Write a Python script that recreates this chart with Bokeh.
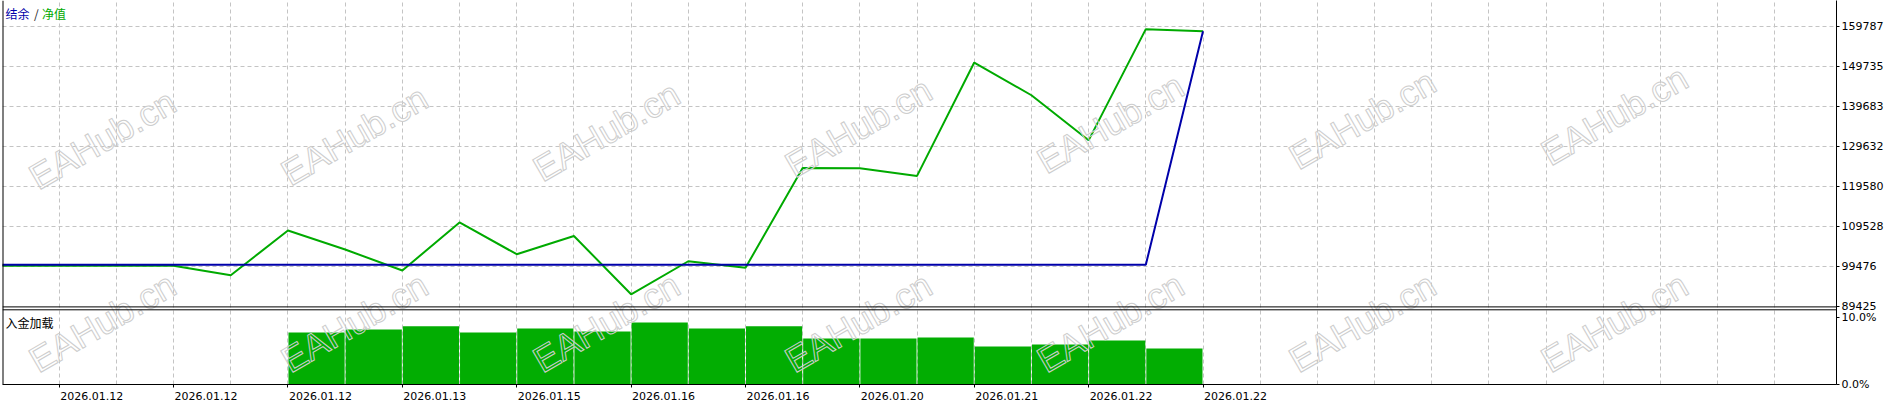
import math
from bokeh.plotting import figure
from bokeh.models import Range1d, FixedTicker, LinearAxis, Span, Label, Grid
from bokeh.embed import file_html
from bokeh.resources import INLINE
from bokeh.core.properties import value

# ---------------- data ----------------
trade_index = [0, 1, 2, 3, 4, 5, 6, 7, 8, 9, 10, 11, 12, 13, 14, 15, 16, 17, 18, 19, 20, 21]
equity = [99740, 99740, 99740, 99740, 97370, 108610, 103840, 98550, 110630, 102650, 107230,
          92590, 100890, 99230, 124280, 124250, 122320, 150790, 142570, 131250, 159170, 158660]
balance = [100000, 100000, 100000, 100000, 100000, 100000, 100000, 100000, 100000, 100000, 100000,
           100000, 100000, 100000, 100000, 100000, 100000, 100000, 100000, 100000, 100000, 158660]

load_index = [5, 6, 7, 8, 9, 10, 11, 12, 13, 14, 15, 16, 17, 18, 19, 20]
load_pct = [7.71, 8.16, 8.65, 7.71, 8.31, 7.86, 9.21, 8.31, 8.65, 6.81, 6.81, 6.96, 5.61, 5.91, 6.51, 5.31]

y_ticks = [89425, 99476, 109528, 119580, 129632, 139683, 149735, 159787]
y_tick_labels = ["89425", "99476", "109528", "119580", "129632", "139683", "149735", "159787"]

x_tick_pos = [1, 3, 5, 7, 9, 11, 13, 15, 17, 19, 21]
x_tick_labels = ["2026.01.12", "2026.01.12", "2026.01.12", "2026.01.13", "2026.01.15", "2026.01.16",
                 "2026.01.16", "2026.01.20", "2026.01.21", "2026.01.22", "2026.01.22"]

pct_ticks = [0, 10]
pct_labels = ["0.0%", "10.0%"]

title_parts = ["结余", "/", "净值"]
panel_title = "入金加载"
watermark = "EAHub.cn"

# ---------------- style / geometry ----------------
GREEN = "#00AA00"
BAR_GREEN = "#02AD02"
BLUE = "#0000AA"
GRID = "#C4C4C4"
FONT = "DejaVu Sans"
CJK = "Noto Sans CJK SC"

W, H = 1890, 406
FRAME_L, FRAME_R, FRAME_B = 2, 1836, 384
PX_PER_IDX = 57.19
X0 = 1 + (FRAME_L - 58.7) / PX_PER_IDX
X1 = 1 + (FRAME_R - 58.7) / PX_PER_IDX

PX_PER_VAL = 251.1
MAIN_END = 89425 + 306.4 * PX_PER_VAL
MAIN_START = MAIN_END - FRAME_B * PX_PER_VAL

PCT_PX = 6.68
PCT_ZERO_Y = 383.5
PCT_START = -(FRAME_B - PCT_ZERO_Y) / PCT_PX
PCT_END = PCT_ZERO_Y / PCT_PX


def y_main(py):
    return MAIN_END - py * PX_PER_VAL


def y_pct(py):
    return (PCT_ZERO_Y - py) / PCT_PX


def x_idx(px):
    return 1 + (px - 58.7) / PX_PER_IDX


p = figure(width=W, height=H, x_range=Range1d(X0, X1), y_range=Range1d(MAIN_START, MAIN_END),
           output_backend="svg", toolbar_location=None,
           x_axis_location=None, y_axis_location=None,
           min_border_left=FRAME_L, min_border_right=W - FRAME_R,
           min_border_top=0, min_border_bottom=H - FRAME_B)
p.extra_y_ranges = {"pct": Range1d(PCT_START, PCT_END)}
p.outline_line_color = None
p.background_fill_color = "white"
p.border_fill_color = "white"
p.center = []

# grids
p.add_layout(Grid(dimension=0, ticker=FixedTicker(ticks=list(range(1, 32))),
                  grid_line_color=GRID, grid_line_dash="4 3", grid_line_width=1))
p.add_layout(Grid(dimension=1, ticker=FixedTicker(ticks=y_ticks[1:]),
                  grid_line_color=GRID, grid_line_dash="4 3", grid_line_width=1))

# right axis: main values plus load percentage labels (converted to main units)
pct_as_main = [round(y_main(PCT_ZERO_Y - t * PCT_PX), 3) for t in pct_ticks]
overrides = {t: l for t, l in zip(y_ticks, y_tick_labels)}
overrides.update({t: l for t, l in zip(pct_as_main, pct_labels)})
ax_r = LinearAxis(ticker=FixedTicker(ticks=y_ticks + pct_as_main),
                  major_label_overrides=overrides,
                  axis_line_color="black", axis_line_width=1,
                  major_tick_out=3, major_tick_in=0, major_tick_line_color="black",
                  minor_tick_line_color=None,
                  major_label_standoff=2, major_label_text_font=FONT,
                  major_label_text_font_size="11px", major_label_text_color="black")
p.add_layout(ax_r, "right")

# bottom axis: labels start right of their tick marks
delta = 32.5 / PX_PER_IDX
lab_pos = [round(t + delta, 4) for t in x_tick_pos]
ax_b = LinearAxis(ticker=FixedTicker(ticks=lab_pos, minor_ticks=x_tick_pos),
                  major_label_overrides={t: l for t, l in zip(lab_pos, x_tick_labels)},
                  axis_line_color="black", axis_line_width=1,
                  major_tick_out=0, major_tick_in=0, major_tick_line_color=None,
                  minor_tick_out=3, minor_tick_in=0, minor_tick_line_color="black",
                  major_label_standoff=4, major_label_text_font=FONT,
                  major_label_text_font_size="11px", major_label_text_color="black")
p.add_layout(ax_b, "below")

# panel borders
p.add_layout(Span(location=X0, dimension="height", line_color="black", line_width=2))
p.add_layout(Span(location=89425, dimension="width", line_color="black", line_width=1))
p.add_layout(Span(location=y_pct(309.3), dimension="width", line_color="black", line_width=1,
                  y_range_name="pct"))

# load bars
gap = 1.0 / PX_PER_IDX
p.vbar(x=[i + 0.5 for i in load_index], top=load_pct, bottom=0, width=1 - gap,
       fill_color=BAR_GREEN, line_color=None, y_range_name="pct")

# equity / balance
p.line(trade_index, equity, line_color=GREEN, line_width=2)
p.line(trade_index, balance, line_color=BLUE, line_width=2)

# watermarks (kept fully inside the plot area)
ang = math.radians(30)
wm_x, wm_y = [], []
for k in range(7):
    wm_x.append(x_idx(102 + 252 * k))
    wm_y.append(y_main(139 - 4 * k))
for k in range(7):
    wm_x.append(x_idx(102 + 252 * k))
    wm_y.append(y_main(322))
p.text(x=wm_x, y=wm_y, text=[watermark] * len(wm_x), angle=ang, text_align="center",
       text_baseline="middle", text_font=value("Liberation Sans"), text_font_size="36px",
       text_color="rgba(255,255,255,0.01)", text_outline_color="#CDCDCD")

# titles
offs = [3, 31.5, 39.5]
cols = [BLUE, "#222222", GREEN]
for t, o, c in zip(title_parts, offs, cols):
    p.add_layout(Label(x=X0, y=y_main(4), x_offset=o, text=t,
                       text_baseline="top", text_align="left", text_font=CJK,
                       text_font_size="12px", text_color=c))
p.add_layout(Label(x=X0, y=y_pct(313.5), x_offset=3, text=panel_title, y_range_name="pct",
                   text_baseline="top", text_align="left", text_font=CJK,
                   text_font_size="12px", text_color="black"))

open("out.html", "w").write(file_html(p, INLINE))
